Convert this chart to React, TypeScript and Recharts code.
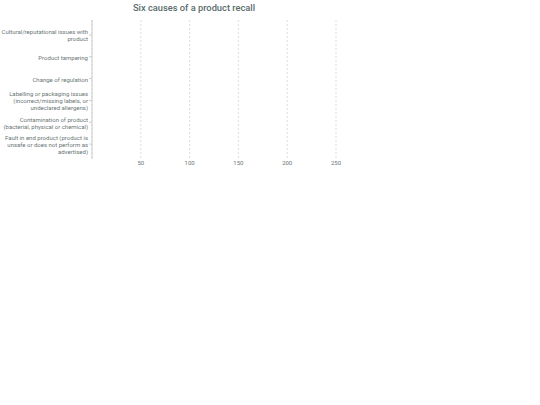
import { BarChart, Bar, XAxis, YAxis, CartesianGrid } from "recharts";

// line breaks follow the reference's wrapped tick labels
const causes = [
  "Cultural/reputational issues with\nproduct",
  "Product tampering",
  "Change of regulation",
  "Labelling or packaging issues\n(incorrect/missing labels, or\nundeclared allergens)",
  "Contamination of product\n(bacterial, physical or chemical)",
  "Fault in end product (product is\nunsafe or does not perform as\nadvertised)",
];

// no bars are drawn in the reference
const recalls: (number | null)[] = [null, null, null, null, null, null];

const xTicks = [50, 100, 150, 200, 250];

const data = causes.map((name, i) => ({ name, value: recalls[i] }));

const FONT = "Roboto, 'Noto Sans', sans-serif";
const TEXT = "#6b7676";
const LINE_H = 7;

function CauseTick(props: any) {
  const { x, y, payload } = props;
  const lines = String(payload.value).split("\n");
  const y0 = y - ((lines.length - 1) * LINE_H) / 2;
  return (
    <text
      x={x}
      y={y0}
      textAnchor="end"
      dominantBaseline="central"
      fill={TEXT}
      style={{ fontSize: 6, fontFamily: FONT }}
    >
      {lines.map((l, i) => (
        <tspan key={i} x={x} y={y0 + i * LINE_H}>
          {l}
        </tspan>
      ))}
    </text>
  );
}

export default function App() {
  return (
    <div
      style={{
        position: "absolute",
        left: 0,
        top: 0,
        width: 540,
        height: 405,
        background: "#fff",
        fontFamily: FONT,
      }}
    >
      <div
        style={{
          width: 388,
          height: 16,
          lineHeight: "16px",
          textAlign: "center",
          fontSize: 9.3,
          fontWeight: 500,
          color: "#5a6b6b",
        }}
      >
        Six causes of a product recall
      </div>
      <BarChart
        width={388}
        height={155}
        data={data}
        layout="vertical"
        margin={{ top: 4, right: 52, left: 0, bottom: 0 }}
      >
        <CartesianGrid horizontal={false} stroke="#dddddd" strokeDasharray="2 2" />
        <XAxis
          type="number"
          domain={[0, 250]}
          allowDataOverflow
          ticks={xTicks}
          interval={0}
          axisLine={false}
          tickLine={false}
          tickSize={0}
          tickMargin={2}
          height={12}
          tick={{ fontSize: 6, fill: TEXT, fontFamily: FONT }}
        />
        <YAxis
          type="category"
          dataKey="name"
          width={92}
          padding={{ top: 4, bottom: 4 }}
          axisLine={{ stroke: "#cccccc" }}
          tickLine={{ stroke: "#cccccc" }}
          tickSize={3}
          tickMargin={1}
          interval={0}
          tick={<CauseTick />}
        />
        <Bar dataKey="value" fill="#4e8a8a" isAnimationActive={false} />
      </BarChart>
    </div>
  );
}
